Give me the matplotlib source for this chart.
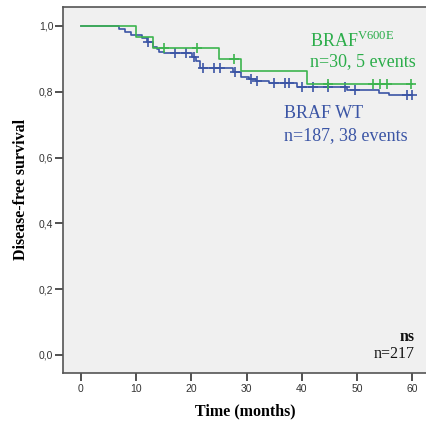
import matplotlib.pyplot as plt
import numpy as np

# Kaplan-Meier steps (months, survival after the step)
wt_times = [0, 6.9, 8.0, 9.1, 11.1, 12.0, 13.1, 13.8, 14.1, 15.0, 20.1, 20.8, 21.6,
            27.5, 29.0, 30.5, 31.8, 34.0, 39.1, 48.2, 54.0, 55.8]
wt_surv = [1.0, 0.990, 0.981, 0.973, 0.962, 0.951, 0.937, 0.930, 0.921, 0.917, 0.907,
           0.892, 0.872, 0.860, 0.845, 0.839, 0.833, 0.827, 0.815, 0.805, 0.797, 0.790]
wt_censored = [12.2, 17.0, 19.0, 20.5, 22.1, 24.1, 25.2, 27.9, 30.8, 31.9, 35.0, 37.0,
               37.7, 40.0, 42.0, 44.8, 47.9, 49.6, 59.1, 60.0]

mut_times = [0, 10, 13, 25, 29, 41]
mut_surv = [1.0, 0.967, 0.933, 0.900, 0.863, 0.824]
mut_censored = [15.0, 21.0, 27.7, 44.8, 52.9, 54.2, 55.4, 59.8]

end_time = 60
blue = '#3B55A5'
green = '#3CB44E'
green_text = '#2BAD4A'

plt.rcParams['font.family'] = 'Liberation Sans'


def surv_at(t, times, surv):
    i = np.searchsorted(times, t, side='right') - 1
    return surv[i]


fig = plt.figure(figsize=(4.27, 4.23), dpi=100)
ax = fig.add_axes([63/427, 50/423, 364/427, 366.5/423])
ax.set_facecolor('#F0F0F0')

for times, surv, cens, col in [(wt_times, wt_surv, wt_censored, blue),
                               (mut_times, mut_surv, mut_censored, green)]:
    x = list(times) + [end_time]
    y = list(surv) + [surv[-1]]
    ax.step(x, y, where='post', color=col, linewidth=1.2)
    cy = [surv_at(t, times, surv) for t in cens]
    ax.plot(cens, cy, linestyle='none', marker='+', color=col, markersize=7, markeredgewidth=1.2)

ax.set_xlim(-3.26, 62.7)
ax.set_ylim(-0.0547, 1.059)
ax.set_xticks(range(0, 61, 10))
ax.set_yticks(np.arange(0, 1.01, 0.2))
ax.set_yticklabels([('%.1f' % v).replace('.', ',') for v in np.arange(0, 1.01, 0.2)])
ax.tick_params(axis='both', direction='out', length=5.5, width=1.2, color='#333333',
               labelsize=7.5, labelcolor='#333333')
ax.tick_params(axis='y', pad=1.5)
ax.tick_params(axis='x', pad=2.5)
for s in ['left', 'bottom', 'top']:
    ax.spines[s].set_color('#555555')
    ax.spines[s].set_linewidth(1.2)
ax.spines['right'].set_visible(False)

ax.set_xlabel('Time (months)', family='Liberation Serif', fontweight='bold', fontsize=11.5,
              labelpad=7)
ax.set_ylabel('Disease-free survival', family='Liberation Serif', fontweight='bold',
              fontsize=11.5, labelpad=7)

ax.text(41.5, 0.955, r'BRAF$^{\mathregular{V600E}}$', color=green_text, family='Liberation Serif',
        fontsize=13, va='center')
ax.text(41.5, 0.893, 'n=30, 5 events', color=green_text, family='Liberation Serif',
        fontsize=13, va='center')
ax.text(36.8, 0.735, 'BRAF WT', color=blue, family='Liberation Serif',
        fontsize=13, va='center')
ax.text(36.8, 0.668, 'n=187, 38 events', color=blue, family='Liberation Serif',
        fontsize=13, va='center')
ax.text(60.5, 0.055, 'ns', color='#111111', family='Liberation Serif', fontweight='bold',
        fontsize=11.5, ha='right', va='center')
ax.text(60.5, 0.002, 'n=217', color='#111111', family='Liberation Serif',
        fontsize=11.5, ha='right', va='center')

fig.savefig('out.png', dpi=100)
